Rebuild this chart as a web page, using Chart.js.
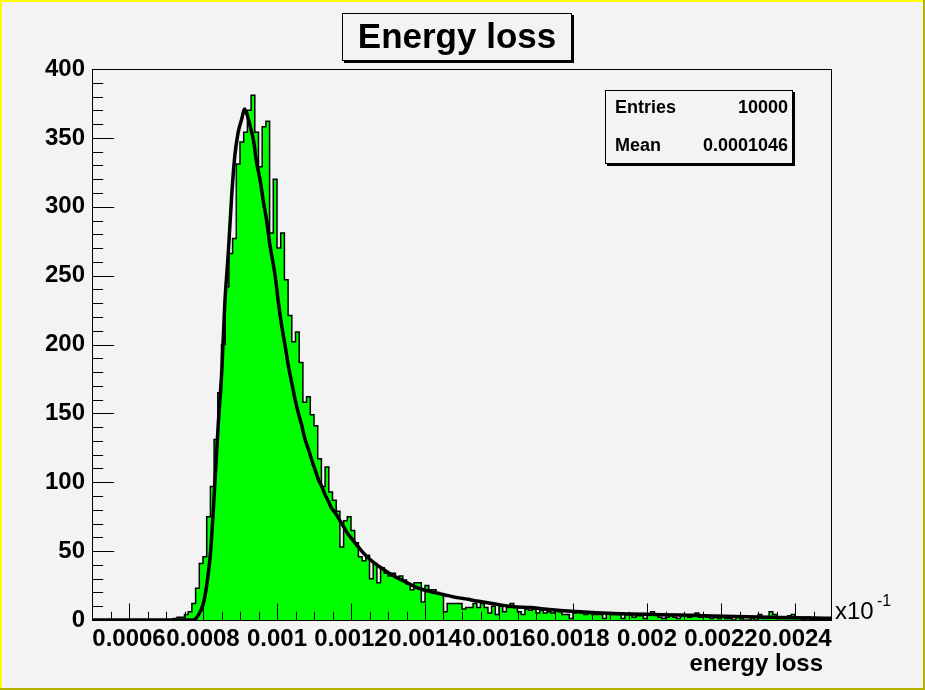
<!DOCTYPE html>
<html>
<head>
<meta charset="utf-8">
<title>Energy loss</title>
<script src="https://cdn.jsdelivr.net/npm/chart.js@4.4.1/dist/chart.umd.min.js"></script>
<style>
  html, body { margin: 0; padding: 0; background: #f3f3f3; }
  canvas { display: block; }
</style>
</head>
<body>
<canvas id="c" width="925" height="690"></canvas>
<script>
// histogram: 200 bins between 0.0005 and 0.0025
const binLow = 0.0005;
const binHigh = 0.0025;
const binWidth = 0.00001;
const counts = [
  0, 0, 0, 0, 0, 0, 0, 0, 0, 0,
  0, 0, 0, 0, 0, 0, 0, 0, 0, 0,
  0, 0, 1, 2, 2, 4, 6, 12, 23, 41,
  46, 75, 97, 131, 165, 200, 242, 266, 277, 331,
  347, 354, 370, 381, 354, 329, 358, 362, 281, 320,
  270, 281, 247, 221, 202, 209, 187, 158, 162, 149,
  141, 117, 97, 111, 93, 87, 79, 53, 72, 75,
  65, 56, 46, 43, 47, 30, 41, 27, 38, 34,
  32, 34, 31, 32, 29, 26, 22, 27, 27, 13,
  25, 22, 22, 20, 19, 6, 12, 12, 12, 12,
  8, 9, 9, 12, 9, 12, 9, 5, 10, 4,
  10, 6, 9, 12, 9, 6, 4, 8, 7, 8,
  5, 7, 5, 6, 5, 7, 6, 4, 4, 1,
  5, 6, 5, 4, 5, 4, 4, 4, 1, 5,
  4, 4, 4, 1, 4, 4, 2, 3, 3, 1,
  4, 6, 4, 2, 1, 2, 3, 2, 1, 3,
  3, 2, 4, 5, 2, 3, 2, 1, 2, 1,
  3, 1, 1, 0, 3, 1, 0, 0, 1, 0,
  4, 1, 1, 6, 4, 1, 1, 1, 3, 4,
  2, 1, 0, 2, 0, 1, 0, 1, 0, 0
];

// fitted curve
const fitX = [
  0.000500, 0.000773, 0.000786, 0.000801, 0.000812, 0.000821, 0.000832, 0.000841, 0.000851, 0.000859,
  0.000868, 0.000878, 0.000886, 0.000895, 0.000905, 0.000912, 0.000919, 0.000927, 0.000936, 0.000945,
  0.000954, 0.000963, 0.000972, 0.000981, 0.000995, 0.001004, 0.001013, 0.001022, 0.001031, 0.001040,
  0.001049, 0.001058, 0.001067, 0.001076, 0.001085, 0.001094, 0.001103, 0.001112, 0.001121, 0.001130,
  0.001139, 0.001148, 0.001157, 0.001166, 0.001175, 0.001193, 0.001211, 0.001229, 0.001247, 0.001265,
  0.001283, 0.001301, 0.001319, 0.001337, 0.001355, 0.001373, 0.001391, 0.001409, 0.001427, 0.001445,
  0.001463, 0.001481, 0.001499, 0.001517, 0.001535, 0.001553, 0.001594, 0.001639, 0.001684, 0.001729,
  0.001774, 0.001819, 0.001864, 0.001909, 0.001954, 0.001999, 0.002089, 0.002179, 0.002269, 0.002359,
  0.002449, 0.002500
];
const fitY = [
  0, 0, 3, 12, 29, 51, 99, 141, 182, 230,
  265, 310, 337, 354, 364, 371, 367, 359, 349, 332,
  320, 304, 290, 272, 250, 230, 213, 199, 184, 172,
  160, 150, 141, 131, 124, 116, 109, 102, 97, 91,
  86, 81, 78, 74, 70, 62, 56, 50, 45, 41,
  37.6, 34.4, 31.5, 29, 26.7, 24.2, 22.3, 21, 19.9, 18.7,
  17.7, 16.5, 15.8, 15, 14, 13.3, 11.4, 9.7, 9, 7.8,
  6.8, 6, 5.3, 4.8, 4.4, 4.1, 3.6, 2.9, 2.4, 1.9,
  1.5, 1.2
];

const xTickValues = [0.0006, 0.0008, 0.0010, 0.0012, 0.0014, 0.0016, 0.0018, 0.0020, 0.0022, 0.0024];
const xTickLabels = ['0.0006', '0.0008', '0.001', '0.0012', '0.0014', '0.0016', '0.0018', '0.002', '0.0022', '0.0024'];
const yMax = 400;
const yStep = 50;

const titleText = 'Energy loss';
const xAxisTitle = 'energy loss';
const statsNames = ['Entries', 'Mean'];
const statsValues = ['10000', '0.0001046'];

const BG = '#f3f3f3';
const FONT = '"Liberation Sans", Arial, Helvetica, sans-serif';

const histPoints = counts.map((c, i) => ({ x: binLow + i * binWidth, y: c }));
histPoints.push({ x: binHigh, y: counts[counts.length - 1] });
const fitPoints = fitX.map((x, i) => ({ x, y: fitY[i] }));

function box(ctx, x, y, w, h) {
  ctx.fillStyle = '#000';
  ctx.fillRect(x + 2, y + 2, w, h);
  ctx.fillStyle = BG;
  ctx.fillRect(x, y, w, h);
  ctx.strokeStyle = '#000';
  ctx.lineWidth = 1;
  ctx.strokeRect(x + 0.5, y + 0.5, w - 1, h - 1);
}

const rootPad = {
  id: 'rootPad',
  beforeDraw(chart) {
    const ctx = chart.ctx;
    ctx.save();
    ctx.fillStyle = BG;
    ctx.fillRect(0, 0, chart.width, chart.height);
    ctx.restore();
  },
  afterDatasetsDraw(chart) {
    const { ctx, chartArea: a, scales } = chart;
    const sx = scales.x, sy = scales.y;
    ctx.save();
    ctx.strokeStyle = '#000';
    ctx.lineWidth = 1;
    ctx.strokeRect(a.left + 0.5, a.top + 0.5, a.right - a.left - 1, a.bottom - a.top);
    // inward ticks like ROOT
    const xl = (a.bottom - a.top) * 0.03;
    const yl = (a.right - a.left) * 0.03;
    ctx.beginPath();
    for (let k = 1; k < 40; k++) {
      const px = Math.round(sx.getPixelForValue(binLow + k * 0.00005)) + 0.5;
      const len = (k % 4 === 2) ? xl : xl / 2;
      ctx.moveTo(px, a.bottom);
      ctx.lineTo(px, a.bottom - len);
    }
    for (let v = 10; v < yMax; v += 10) {
      const py = Math.round(sy.getPixelForValue(v)) + 0.5;
      const len = (v % yStep === 0) ? yl : yl / 2;
      ctx.moveTo(a.left, py);
      ctx.lineTo(a.left + len, py);
    }
    ctx.stroke();
    ctx.restore();
  },
  afterDraw(chart) {
    const ctx = chart.ctx;
    ctx.save();
    // title pave
    box(ctx, 342, 13, 230, 48);
    ctx.fillStyle = '#000';
    ctx.font = 'bold 35px ' + FONT;
    ctx.textAlign = 'center';
    ctx.textBaseline = 'alphabetic';
    ctx.fillText(titleText, 457, 48);
    // stats pave
    box(ctx, 605, 90, 188, 74);
    ctx.fillStyle = '#000';
    ctx.font = 'bold 18px ' + FONT;
    const rows = [113, 151];
    statsNames.forEach((n, i) => {
      ctx.textAlign = 'left';
      ctx.fillText(n, 615, rows[i]);
      ctx.textAlign = 'right';
      ctx.fillText(statsValues[i], 788, rows[i]);
    });
    // axis title
    ctx.font = 'bold 24px ' + FONT;
    ctx.textAlign = 'right';
    ctx.fillText(xAxisTitle, 823, 671);
    // exponent
    ctx.textAlign = 'left';
    ctx.font = '24px ' + FONT;
    ctx.fillText('x10', 835, 619);
    ctx.font = '16px ' + FONT;
    ctx.fillText('-1', 877, 606);
    // pad border (selected pad highlight)
    ctx.fillStyle = '#ffff00';
    ctx.fillRect(0, 0, chart.width, 2);
    ctx.fillRect(0, 0, 2, chart.height);
    ctx.fillStyle = '#b4b400';
    ctx.fillRect(0, chart.height - 2, chart.width, 2);
    ctx.fillRect(chart.width - 2, 0, 2, chart.height);
    ctx.restore();
  }
};

new Chart(document.getElementById('c'), {
  type: 'line',
  data: {
    datasets: [
      {
        label: 'fit',
        data: fitPoints,
        borderColor: '#000',
        borderWidth: 3.5,
        pointRadius: 0,
        fill: false,
        cubicInterpolationMode: 'monotone',
        order: 0
      },
      {
        label: 'energy loss',
        data: histPoints,
        stepped: 'before',
        borderColor: '#000',
        borderWidth: 1.5,
        backgroundColor: '#00ff00',
        pointRadius: 0,
        fill: 'origin',
        order: 1
      }
    ]
  },
  options: {
    responsive: false,
    devicePixelRatio: 1,
    animation: false,
    events: [],
    layout: { padding: { left: 0, right: 93, top: 69, bottom: 0 } },
    plugins: {
      legend: { display: false },
      tooltip: { enabled: false },
      title: { display: false }
    },
    scales: {
      x: {
        type: 'linear',
        min: binLow,
        max: binHigh,
        grid: { display: false, drawTicks: false },
        border: { display: false },
        afterBuildTicks: s => { s.ticks = xTickValues.map(v => ({ value: v })); },
        afterFit: s => { s.height = 70; },
        ticks: {
          autoSkip: false,
          maxRotation: 0,
          padding: 5,
          color: '#000',
          font: { family: FONT, size: 24, weight: 'bold' },
          callback: (v, i) => xTickLabels[i]
        }
      },
      y: {
        min: 0,
        max: yMax,
        grid: { display: false, drawTicks: false },
        border: { display: false },
        afterFit: s => { s.width = 92; },
        ticks: {
          stepSize: yStep,
          padding: 7,
          color: '#000',
          font: { family: FONT, size: 24, weight: 'bold' }
        }
      }
    }
  },
  plugins: [rootPad]
});
</script>
</body>
</html>
